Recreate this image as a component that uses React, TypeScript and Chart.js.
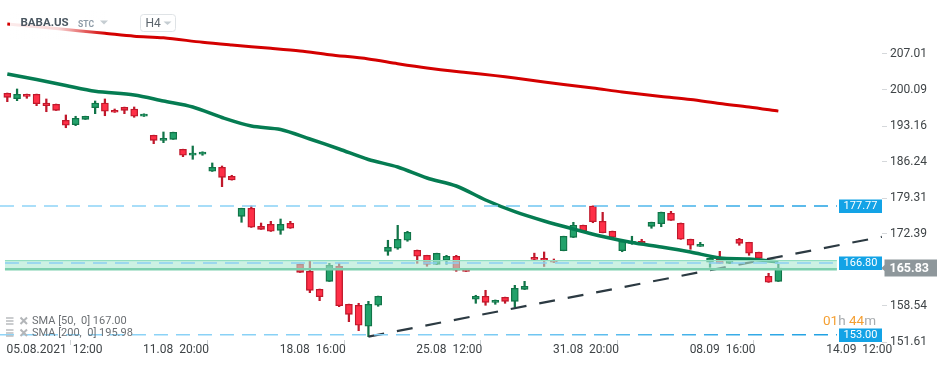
import React, { useEffect, useRef } from "react";
import { Chart, registerables } from "chart.js";

Chart.register(...registerables);

// ---------- DATA ----------
const opens = [
  199.45, 198.41, 199.26, 199.26, 197.59, 197.34, 194.26, 193.41, 194.45, 196.68,
  197.59, 196.18, 196.76, 196.43, 195.03, 191.37, 190.41, 190.6, 188.68, 187.53,
  187.72, 184.45, 185.22, 183.49, 175.79, 177.33, 173.87, 174.25, 173.1, 174.45,
  166.56, 165.21, 161.75, 163.29, 166.18, 158.87, 158.68, 154.64, 158.68, 169.06,
  169.64, 171.18, 169.25, 168.29, 166.56, 167.33, 168.1, 165.6, 159.83, 160.41,
  159.25, 160.21, 159.44, 161.75, 167.91, 167.71, 167.33, 169.18, 171.75, 174.06,
  177.77, 174.83, 172.91, 169.18, 170.6, 170.99, 173.87, 174.37, 176.37, 174.45,
  171.37, 170.02, 166.95, 167.52, 166.75, 171.37, 170.79, 168.87, 164.25, 163.29,
];
const highs = [
  199.5, 200.28, 199.3, 199.3, 198.36, 197.38, 195.28, 195.03, 195.05, 197.97,
  198.36, 196.43, 196.8, 196.82, 195.5, 191.4, 192.01, 191.98, 188.7, 189.31,
  188.2, 186.05, 185.47, 183.68, 177.35, 177.77, 174.5, 174.83, 175.27, 174.83,
  166.6, 167.25, 161.8, 166.75, 166.75, 158.9, 159.06, 159.44, 160.45, 171.18,
  174.06, 172.91, 169.3, 168.3, 168.7, 168.29, 168.29, 165.65, 160.6, 161.56,
  159.7, 160.25, 162.52, 163.29, 168.7, 168.93, 167.58, 171.97, 174.64, 174.1,
  177.8, 176.56, 172.95, 171.0, 171.95, 171.37, 174.67, 176.6, 176.75, 174.5,
  171.4, 170.79, 167.75, 169.06, 167.75, 171.56, 170.8, 168.9, 164.83, 166.56,
];
const lows = [
  197.84, 198.03, 198.49, 197.07, 195.91, 196.15, 192.83, 193.22, 194.42, 195.53,
  195.14, 195.78, 195.53, 194.84, 195.0, 189.76, 189.95, 190.58, 187.26, 186.76,
  187.53, 184.42, 181.49, 182.75, 174.64, 173.65, 173.27, 172.88, 172.33, 173.47,
  165.0, 161.1, 159.56, 163.25, 158.41, 155.52, 153.79, 152.64, 158.48, 168.29,
  169.45, 170.99, 166.75, 166.18, 166.5, 166.56, 165.21, 165.19, 159.06, 158.68,
  158.87, 159.06, 158.29, 161.7, 167.45, 166.14, 166.9, 169.15, 171.7, 172.88,
  174.56, 172.6, 171.72, 168.98, 170.41, 170.58, 173.49, 173.79, 175.0, 171.35,
  169.45, 170.0, 165.98, 166.7, 166.7, 170.22, 168.29, 167.68, 163.08, 163.25,
];
const closes = [
  198.68, 199.26, 198.87, 197.45, 197.07, 196.18, 193.3, 194.64, 195.03, 197.59,
  195.99, 195.8, 196.18, 195.03, 195.47, 190.41, 190.8, 191.95, 187.53, 187.97,
  188.16, 185.22, 183.29, 182.78, 177.33, 173.68, 173.29, 172.91, 174.25, 173.49,
  165.02, 161.56, 160.33, 166.37, 158.6, 156.94, 154.83, 158.87, 160.41, 169.83,
  171.37, 172.72, 168.1, 166.56, 168.68, 168.1, 165.41, 165.21, 160.41, 159.25,
  159.64, 159.44, 161.95, 162.33, 167.48, 167.29, 166.95, 171.95, 174.06, 172.91,
  174.75, 172.64, 171.75, 170.99, 170.99, 170.6, 174.64, 176.56, 175.02, 171.37,
  170.22, 170.41, 167.71, 166.75, 167.71, 170.6, 168.68, 167.71, 163.1, 165.83,
];

const sma200Idx = [0, 5, 10, 13, 16, 20, 23, 27, 30, 33, 37, 40, 43, 47, 50, 52, 55, 57, 60, 63, 67, 70, 73, 76, 79];
const sma200Val = [
  212.78, 211.9, 210.99, 210.43, 210.13, 209.26, 208.74, 208.11, 207.59, 206.88, 206.05, 205.14,
  204.32, 203.45, 202.85, 202.39, 201.62, 201.14, 200.47, 199.7, 198.84, 198.26, 197.49, 196.82, 196.02,
];
const sma50Idx = [0, 3, 6, 9, 13, 16, 19, 22, 25, 28, 31, 34, 37, 40, 43, 46, 49, 52, 55, 58, 61, 64, 67, 70, 73, 76, 79];
const sma50Val = [
  203.16, 202.11, 200.95, 199.84, 199.12, 197.97, 196.82, 194.8, 193.16, 192.49, 190.66, 188.74,
  186.72, 185.28, 183.16, 181.62, 178.93, 176.68, 174.89, 173.35, 171.91, 170.75, 169.89, 168.93,
  167.77, 167.58, 167.0,
];

const xTickPos = [-0.5, 13.5, 27.5, 41.5, 55.5, 69.5, 83.5];
const xTickLabels = ["05.08.2021  12:00", "11.08  20:00", "18.08  16:00", "25.08  12:00", "31.08  20:00", "08.09  16:00", "14.09  12:00"];
const yTickValues = [207.01, 200.09, 193.16, 186.24, 179.31, 172.39, 165.47, 158.54, 151.61];

const resistanceLevel = 177.77;
const supportLevel = 153.0;
const midLevel = 166.8;
const bandTop = 167.25;
const bandBottom = 165.62;
const lastPrice = 165.83;
const trendX = [37, 89.6];
const trendY = [152.64, 171.85];
const levelX = [-0.75, 85.0];
const bandX = [-0.24, 85.0];
const sma50Last = "167.00";
const sma200Last = "195.98";

// ---------- COLORS ----------
const RED_FILL = "#ff2f47";
const RED_EDGE = "#c0182b";
const GREEN_FILL = "#22a26b";
const GREEN_EDGE = "#117448";

const isUp = closes.map((c, i) => c >= opens[i]);

const blueGradient = (c: any) => {
  const chart = c.chart;
  const { ctx, chartArea } = chart;
  if (!chartArea) return "#8ad2f6";
  const g = ctx.createLinearGradient(0, 0, 840, 0);
  g.addColorStop(0, "#8fd4f7");
  g.addColorStop(0.55, "#84cff5");
  g.addColorStop(1, "#1c9fe2");
  return g;
};

const overlayPlugin = {
  id: "overlay",
  afterDraw(chart: any) {
    const { ctx } = chart;
    const ys = chart.scales.y;
    ctx.save();

    // fade box behind title
    const g = ctx.createLinearGradient(10, 0, 106, 0);
    g.addColorStop(0, "rgba(255,255,255,0.92)");
    g.addColorStop(0.5, "rgba(255,255,255,0.85)");
    g.addColorStop(1, "rgba(255,255,255,0)");
    ctx.fillStyle = g;
    ctx.fillRect(10, 11, 96, 28);

    // title
    ctx.textBaseline = "middle";
    ctx.textAlign = "left";
    ctx.fillStyle = "#4b5761";
    ctx.font = "bold 11.5px Roboto";
    ctx.fillText("BABA.US", 20.5, 23.5);
    ctx.fillStyle = "#8d9ba7";
    ctx.font = "bold 8.5px Roboto";
    ctx.fillText("STC", 78, 24.5);
    ctx.fillStyle = "#c5cdd2";
    ctx.beginPath();
    ctx.moveTo(100, 20.5);
    ctx.lineTo(108, 20.5);
    ctx.lineTo(104, 24.5);
    ctx.closePath();
    ctx.fill();

    // H4 box
    ctx.fillStyle = "#ffffff";
    ctx.strokeStyle = "#dfe3e6";
    ctx.lineWidth = 1;
    ctx.beginPath();
    (ctx as any).roundRect(140.5, 14.5, 35, 17, 3);
    ctx.fill();
    ctx.stroke();
    ctx.fillStyle = "#5a636b";
    ctx.font = "12px Roboto";
    ctx.fillText("H4", 145.5, 23.5);
    ctx.fillStyle = "#c5cdd2";
    ctx.beginPath();
    ctx.moveTo(163.5, 21.5);
    ctx.lineTo(171.5, 21.5);
    ctx.lineTo(167.5, 25);
    ctx.closePath();
    ctx.fill();

    // bottom-left SMA legend
    const rows: [string, number][] = [
      ["SMA [50,  0] " + sma50Last, 321],
      ["SMA [200,  0] " + sma200Last, 333],
    ];
    rows.forEach(([t, y]) => {
      ctx.strokeStyle = "#b3b6b9";
      ctx.lineWidth = 1.4;
      for (let k = -3; k <= 3; k += 3) {
        ctx.beginPath();
        ctx.moveTo(6, y + k);
        ctx.lineTo(13.5, y + k);
        ctx.stroke();
      }
      ctx.lineWidth = 2;
      ctx.beginPath();
      ctx.moveTo(20.5, y - 3.5);
      ctx.lineTo(27, y + 3);
      ctx.moveTo(27, y - 3.5);
      ctx.lineTo(20.5, y + 3);
      ctx.stroke();
      ctx.fillStyle = "#6b6f73";
      ctx.font = "11px Roboto";
      ctx.fillText(t, 32, y + 0.5);
    });

    // countdown
    ctx.font = "13.5px Roboto";
    let x = 823;
    const parts: [string, string][] = [
      ["01", "#f5a033"],
      ["h ", "#a7abae"],
      ["44", "#f5a033"],
      ["m", "#a7abae"],
    ];
    parts.forEach(([t, c]) => {
      ctx.fillStyle = c;
      ctx.fillText(t, x, 322);
      x += ctx.measureText(t).width;
    });

    // blue level badges
    const blueBadge = (v: number) => {
      const y = ys.getPixelForValue(v);
      ctx.fillStyle = "#13a3e6";
      ctx.fillRect(839, Math.round(y) - 6.5, 43, 13.5);
      ctx.fillStyle = "#ffffff";
      ctx.font = "11px Roboto";
      ctx.textAlign = "center";
      ctx.fillText(v.toFixed(2), 860.5, y + 0.5);
      ctx.textAlign = "left";
    };
    blueBadge(resistanceLevel);
    blueBadge(midLevel);
    blueBadge(supportLevel);

    // last price badge
    const yl = ys.getPixelForValue(lastPrice);
    ctx.fillStyle = "#8e979b";
    ctx.beginPath();
    ctx.moveTo(881.5, yl);
    ctx.lineTo(884.5, yl - 3);
    ctx.lineTo(884.5, yl - 8.5);
    ctx.lineTo(937, yl - 8.5);
    ctx.lineTo(937, yl + 8.5);
    ctx.lineTo(884.5, yl + 8.5);
    ctx.lineTo(884.5, yl + 3);
    ctx.closePath();
    ctx.fill();
    ctx.fillStyle = "#ffffff";
    ctx.font = "bold 12.5px Roboto";
    ctx.fillText(lastPrice.toFixed(2), 889.5, yl + 0.5);

    ctx.restore();
  },
};

export default function App() {
  const ref = useRef<HTMLCanvasElement | null>(null);

  useEffect(() => {
    if (!ref.current) return;
    const idx = opens.map((_, i) => i);
    const chart = new Chart(ref.current, {
      type: "bar",
      data: {
        datasets: [
          {
            type: "bar",
            label: "wicks",
            data: idx.map((i) => ({ x: i, y: [lows[i], highs[i]] })) as any,
            backgroundColor: isUp.map((u) => (u ? GREEN_EDGE : RED_EDGE)),
            borderWidth: 0,
            barThickness: 1.6,
            grouped: false,
            order: 10,
          } as any,
          {
            type: "bar",
            label: "bodies",
            data: idx.map((i) => ({ x: i, y: [opens[i], closes[i]] })) as any,
            backgroundColor: isUp.map((u) => (u ? GREEN_FILL : RED_FILL)),
            borderColor: isUp.map((u) => (u ? GREEN_EDGE : RED_EDGE)),
            borderWidth: 1.3,
            borderSkipped: false,
            barThickness: 7,
            grouped: false,
            order: 9,
          } as any,
          {
            type: "line",
            label: "SMA200",
            data: sma200Idx.map((x, k) => ({ x, y: sma200Val[k] })),
            borderColor: "#d40000",
            borderWidth: 3,
            pointRadius: 0,
            tension: 0.3,
            order: 8,
          } as any,
          {
            type: "line",
            label: "SMA50",
            data: sma50Idx.map((x, k) => ({ x, y: sma50Val[k] })),
            borderColor: "#057c52",
            borderWidth: 3.5,
            pointRadius: 0,
            tension: 0.3,
            order: 7,
          } as any,
          {
            type: "line",
            label: "trend",
            data: trendX.map((x, k) => ({ x, y: trendY[k] })),
            borderColor: "#2c3a42",
            borderWidth: 2.2,
            borderDash: [16, 13],
            pointRadius: 0,
            order: 6,
          } as any,
          {
            type: "line",
            label: "resistance",
            data: levelX.map((x) => ({ x, y: resistanceLevel })),
            borderColor: blueGradient,
            borderWidth: 1.4,
            borderDash: [14, 8],
            pointRadius: 0,
            order: 5,
          } as any,
          {
            type: "line",
            label: "support",
            data: levelX.map((x) => ({ x, y: supportLevel })),
            borderColor: blueGradient,
            borderWidth: 1.4,
            borderDash: [14, 8],
            pointRadius: 0,
            order: 5,
          } as any,
          {
            type: "line",
            label: "bandTop",
            data: bandX.map((x) => ({ x, y: bandTop })),
            borderColor: "#8fdcbf",
            borderWidth: 1.2,
            pointRadius: 0,
            fill: false,
            order: 4,
          } as any,
          {
            type: "line",
            label: "bandBottom",
            data: bandX.map((x) => ({ x, y: bandBottom })),
            borderColor: "#7ccfae",
            borderWidth: 2.5,
            pointRadius: 0,
            fill: "-1",
            backgroundColor: "rgba(170,232,208,0.6)",
            order: 3,
          } as any,
          {
            type: "line",
            label: "mid",
            data: bandX.map((x) => ({ x, y: midLevel })),
            borderColor: "#8ccff2",
            borderWidth: 1.4,
            borderDash: [14, 8],
            pointRadius: 0,
            order: 2,
          } as any,
        ],
      },
      options: {
        responsive: false,
        animation: false,
        events: [],
        layout: { padding: 0 },
        plugins: {
          legend: { display: false },
          tooltip: { enabled: false },
          title: { display: false },
        },
        scales: {
          x: {
            type: "linear",
            min: -0.748,
            max: 89.62,
            offset: false,
            afterBuildTicks: (s: any) => {
              s.ticks = xTickPos.map((v) => ({ value: v }));
            },
            afterFit: (s: any) => {
              s.height = 27;
              s.paddingLeft = 0;
              s.paddingRight = 0;
            },
            ticks: {
              autoSkip: false,
              maxRotation: 0,
              minRotation: 0,
              align: "start",
              labelOffset: 4,
              padding: -2,
              color: "#3f4447",
              font: { family: "Roboto", size: 12 },
              callback: (_v: any, i: number) => xTickLabels[i],
            },
            grid: { drawOnChartArea: false, drawTicks: true, tickLength: 5, color: "#cfd3d6" },
            border: { display: false },
          },
          y: {
            type: "linear",
            position: "right",
            min: 152.0,
            max: 217.396,
            afterBuildTicks: (s: any) => {
              s.ticks = yTickValues.map((v) => ({ value: v }));
            },
            afterFit: (s: any) => {
              s.width = 68;
              s.paddingTop = 0;
              s.paddingBottom = 0;
            },
            ticks: {
              autoSkip: false,
              padding: 3,
              color: "#3f4447",
              font: { family: "Roboto", size: 12 },
              callback: (v: any) => Number(v).toFixed(2),
            },
            grid: { drawOnChartArea: false, drawTicks: true, tickLength: 5, color: "#d5d8db" },
            border: { display: false },
          },
        },
      } as any,
      plugins: [overlayPlugin],
    });
    return () => chart.destroy();
  }, []);

  return (
    <div style={{ position: "fixed", left: 0, top: 0, width: 950, height: 367, background: "#ffffff" }}>
      <canvas ref={ref} width={950} height={367} style={{ display: "block" }} />
    </div>
  );
}
